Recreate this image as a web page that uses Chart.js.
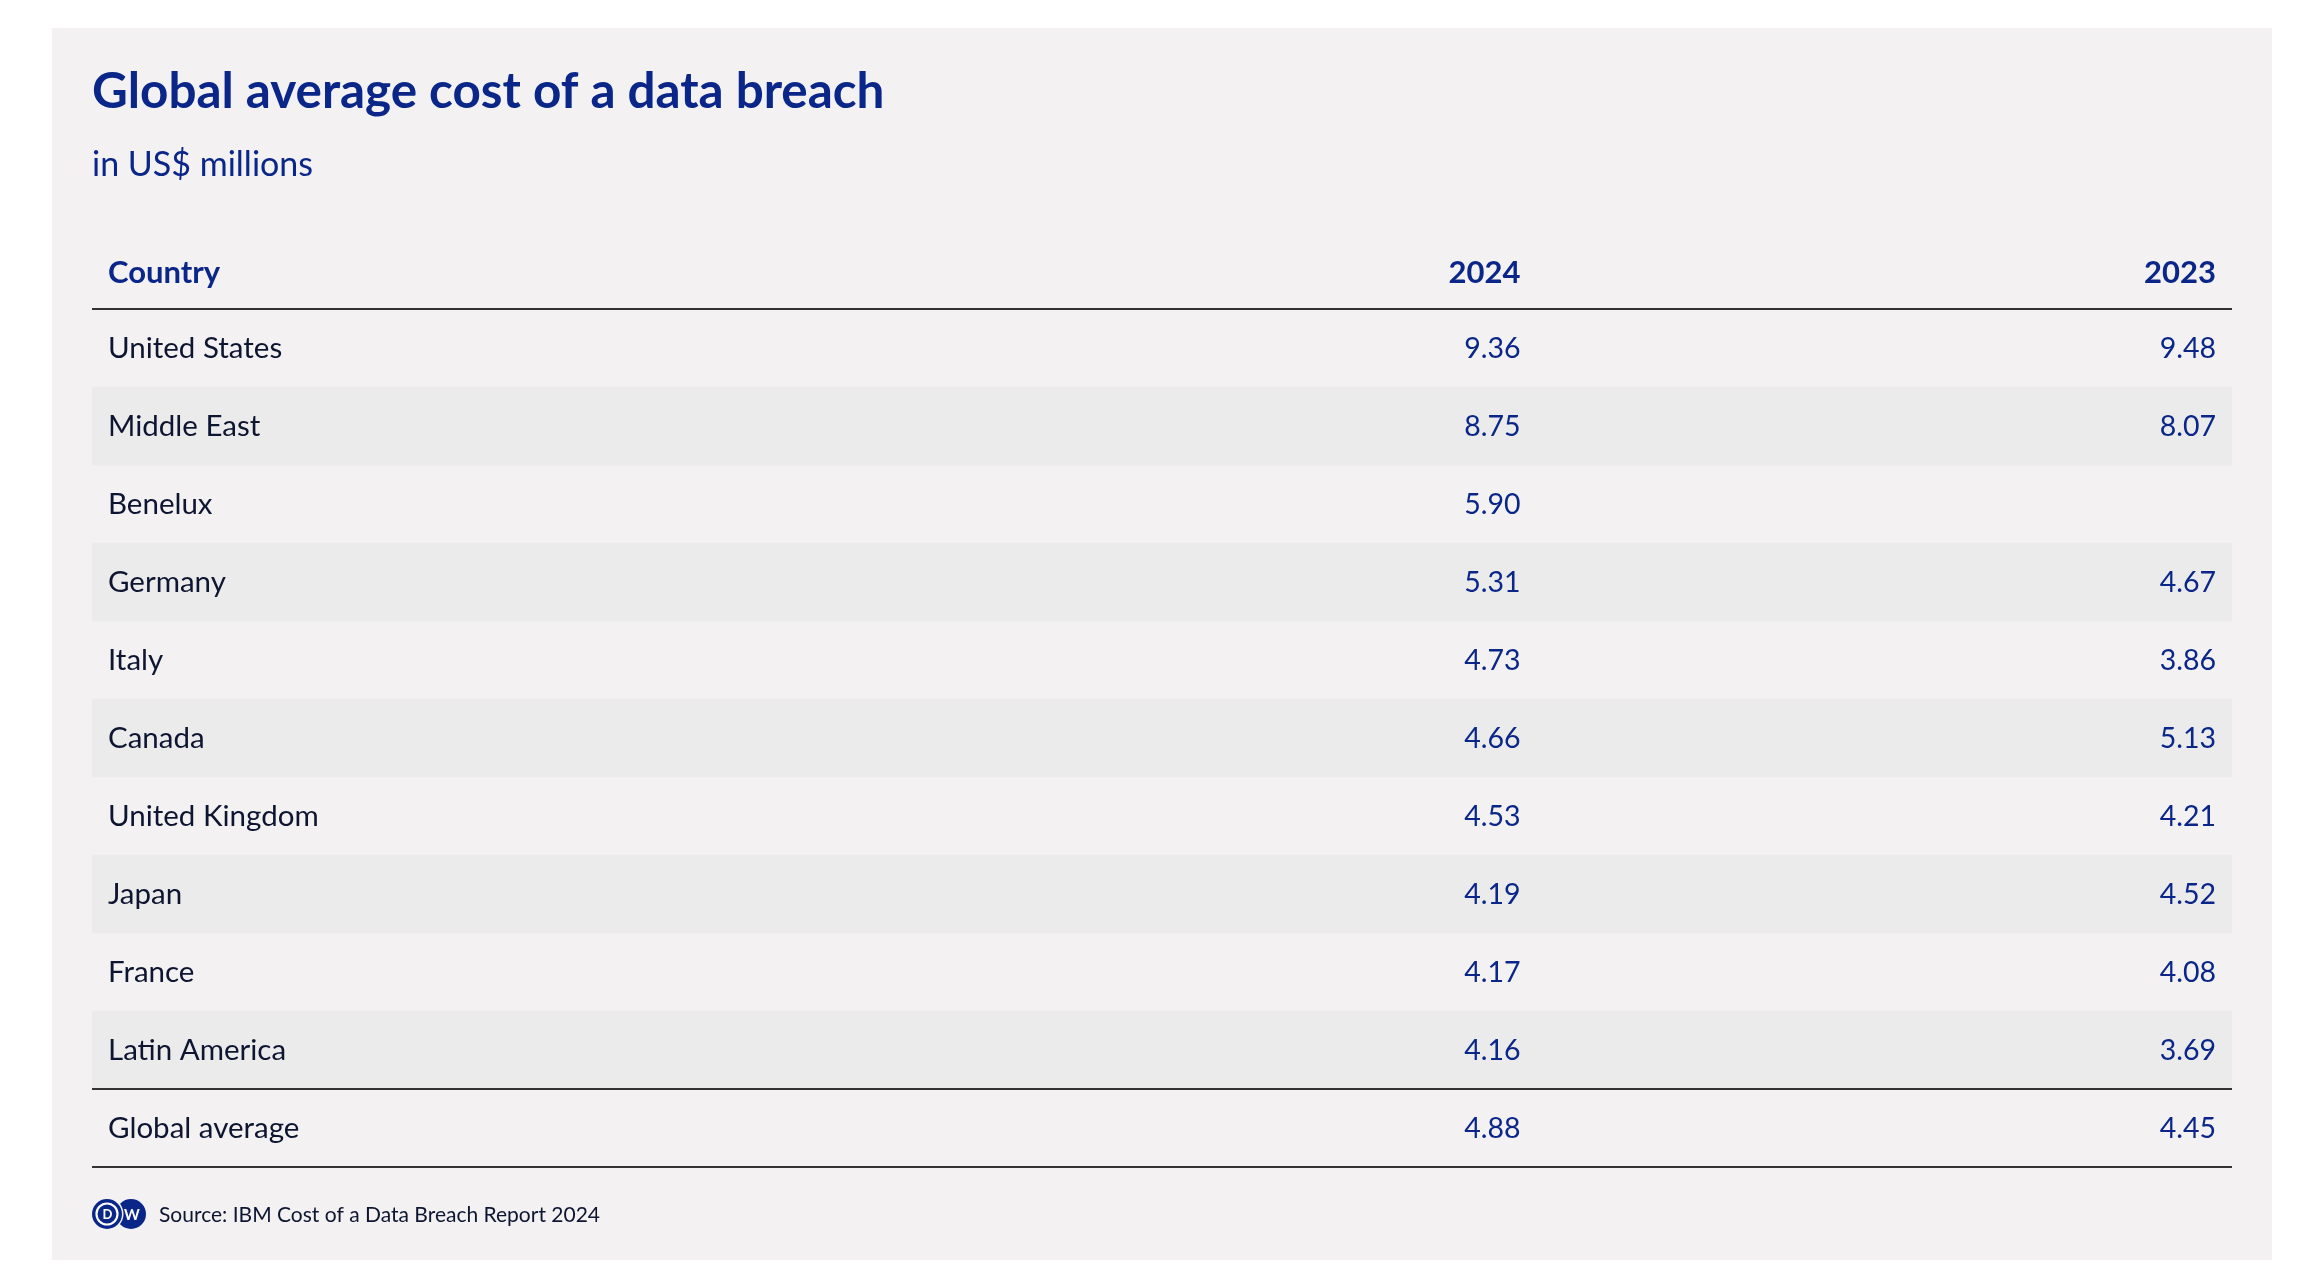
<!DOCTYPE html>
<html>
<head>
<meta charset="utf-8">
<script src="https://cdn.jsdelivr.net/npm/chart.js@4/dist/chart.umd.min.js"></script>
<style>
  html, body { margin: 0; padding: 0; background: #ffffff; }
  #wrap { width: 2318px; height: 1280px; }
</style>
</head>
<body>
<div id="wrap"><canvas id="c" width="2318" height="1280"></canvas></div>
<script>
// ---- data ----
const titleText = 'Global average cost of a data breach';
const subtitleText = 'in US$ millions';
const headerLabels = ['Country', '2024', '2023'];
const categories = ['United States', 'Middle East', 'Benelux', 'Germany', 'Italy', 'Canada',
  'United Kingdom', 'Japan', 'France', 'Latin America', 'Global average'];
const values2024 = [9.36, 8.75, 5.90, 5.31, 4.73, 4.66, 4.53, 4.19, 4.17, 4.16, 4.88];
const values2023 = [9.48, 8.07, null, 4.67, 3.86, 5.13, 4.21, 4.52, 4.08, 3.69, 4.45];
const sourceText = 'Source: IBM Cost of a Data Breach Report 2024';

// ---- styles ----
const FONT = 'Lato, "Open Sans", sans-serif';
const BLUE = '#0a2689';
const INK = '#0d1530';
const PANEL = '#f3f1f2';
const STRIPE = '#ecebec';
const RULE = '#333333';
const CELL_PAD = 16;
// right edges of the numeric columns, as fractions of the table width
const colRight = [0.675, 1.0];

// stripe band on every second body row (not the summary row)
const stripeData = categories.map((c, i) => (i % 2 === 1 && i < categories.length - 1) ? [0, 1] : null);

const tablePlugin = {
  id: 'tablePlugin',
  beforeDraw(chart) {
    const ctx = chart.ctx;
    ctx.save();
    ctx.fillStyle = '#ffffff';
    ctx.fillRect(0, 0, chart.width, chart.height);
    ctx.fillStyle = PANEL;
    ctx.fillRect(52, 28, 2220, 1232);
    ctx.restore();
  },
  afterDraw(chart) {
    const ctx = chart.ctx;
    const x = chart.scales.x, y = chart.scales.y;
    const area = chart.chartArea;
    const rowH = y.getPixelForValue(1) - y.getPixelForValue(0);
    ctx.save();
    // header
    const hy = area.top - rowH / 2 + 3;
    ctx.font = 'bold 31px ' + FONT;
    ctx.fillStyle = BLUE;
    ctx.textBaseline = 'middle';
    ctx.textAlign = 'left';
    ctx.fillText(headerLabels[0], x.getPixelForValue(0) + CELL_PAD, hy);
    ctx.textAlign = 'right';
    ctx.fillText(headerLabels[1], x.getPixelForValue(colRight[0]) - CELL_PAD, hy);
    ctx.fillText(headerLabels[2], x.getPixelForValue(colRight[1]) - CELL_PAD, hy);
    // values
    ctx.font = '28.5px ' + FONT;
    categories.forEach((c, i) => {
      const py = y.getPixelForValue(i) + 1;
      [values2024, values2023].forEach((arr, k) => {
        const v = arr[i];
        if (v === null || v === undefined) return;
        ctx.fillText(v.toFixed(2), x.getPixelForValue(colRight[k]) - CELL_PAD, py);
      });
    });
    // rules
    ctx.strokeStyle = RULE;
    ctx.lineWidth = 2;
    const rules = [area.top, y.getPixelForValue(categories.length - 1.5), area.bottom];
    rules.forEach(r => {
      ctx.beginPath();
      ctx.moveTo(area.left, r);
      ctx.lineTo(area.right, r);
      ctx.stroke();
    });
    // footer: DW logo + source
    const fy = area.bottom + 47;
    const lx = area.left;
    ctx.fillStyle = BLUE;
    ctx.beginPath(); ctx.arc(lx + 39, fy, 15, 0, Math.PI * 2); ctx.fill();
    ctx.fillStyle = PANEL;
    ctx.beginPath(); ctx.arc(lx + 15, fy, 16.5, 0, Math.PI * 2); ctx.fill();
    ctx.fillStyle = BLUE;
    ctx.beginPath(); ctx.arc(lx + 15, fy, 15, 0, Math.PI * 2); ctx.fill();
    ctx.strokeStyle = '#ffffff';
    ctx.lineWidth = 2.2;
    ctx.beginPath(); ctx.arc(lx + 15, fy, 10.5, 0, Math.PI * 2); ctx.stroke();
    ctx.fillStyle = '#ffffff';
    ctx.textAlign = 'center';
    ctx.textBaseline = 'middle';
    ctx.font = 'bold 13px ' + FONT;
    ctx.fillText('D', lx + 15.5, fy + 1);
    ctx.font = 'bold 15px ' + FONT;
    ctx.fillText('W', lx + 40, fy + 1);
    ctx.fillStyle = INK;
    ctx.textAlign = 'left';
    ctx.font = '21px ' + FONT;
    ctx.fillText(sourceText, lx + 67, fy + 1);
    ctx.restore();
  }
};

new Chart(document.getElementById('c'), {
  type: 'bar',
  data: {
    labels: categories,
    datasets: [{
      data: stripeData,
      backgroundColor: STRIPE,
      borderWidth: 0,
      barPercentage: 1,
      categoryPercentage: 1
    }]
  },
  options: {
    indexAxis: 'y',
    responsive: false,
    animation: false,
    events: [],
    layout: { padding: { left: 60, right: 86, top: 0, bottom: 113 } },
    scales: {
      x: { type: 'linear', min: 0, max: 1, display: false },
      y: {
        type: 'category',
        offset: true,
        grid: { display: false, drawTicks: false },
        border: { display: false },
        ticks: {
          z: 1,
          mirror: true,
          autoSkip: false,
          padding: 16,
          color: INK,
          font: { family: FONT, size: 29.5 }
        }
      }
    },
    plugins: {
      legend: { display: false },
      tooltip: { enabled: false },
      title: {
        display: true,
        text: titleText,
        align: 'start',
        fullSize: false,
        color: BLUE,
        font: { family: FONT, size: 49.4, weight: 'bold', lineHeight: 1.2 },
        padding: { top: 62, bottom: 0 }
      },
      subtitle: {
        display: true,
        text: subtitleText,
        align: 'start',
        fullSize: false,
        color: BLUE,
        font: { family: FONT, size: 34, weight: 'normal', lineHeight: 1.2 },
        padding: { top: 23, bottom: 124 }
      }
    }
  },
  plugins: [tablePlugin]
});
</script>
</body>
</html>
